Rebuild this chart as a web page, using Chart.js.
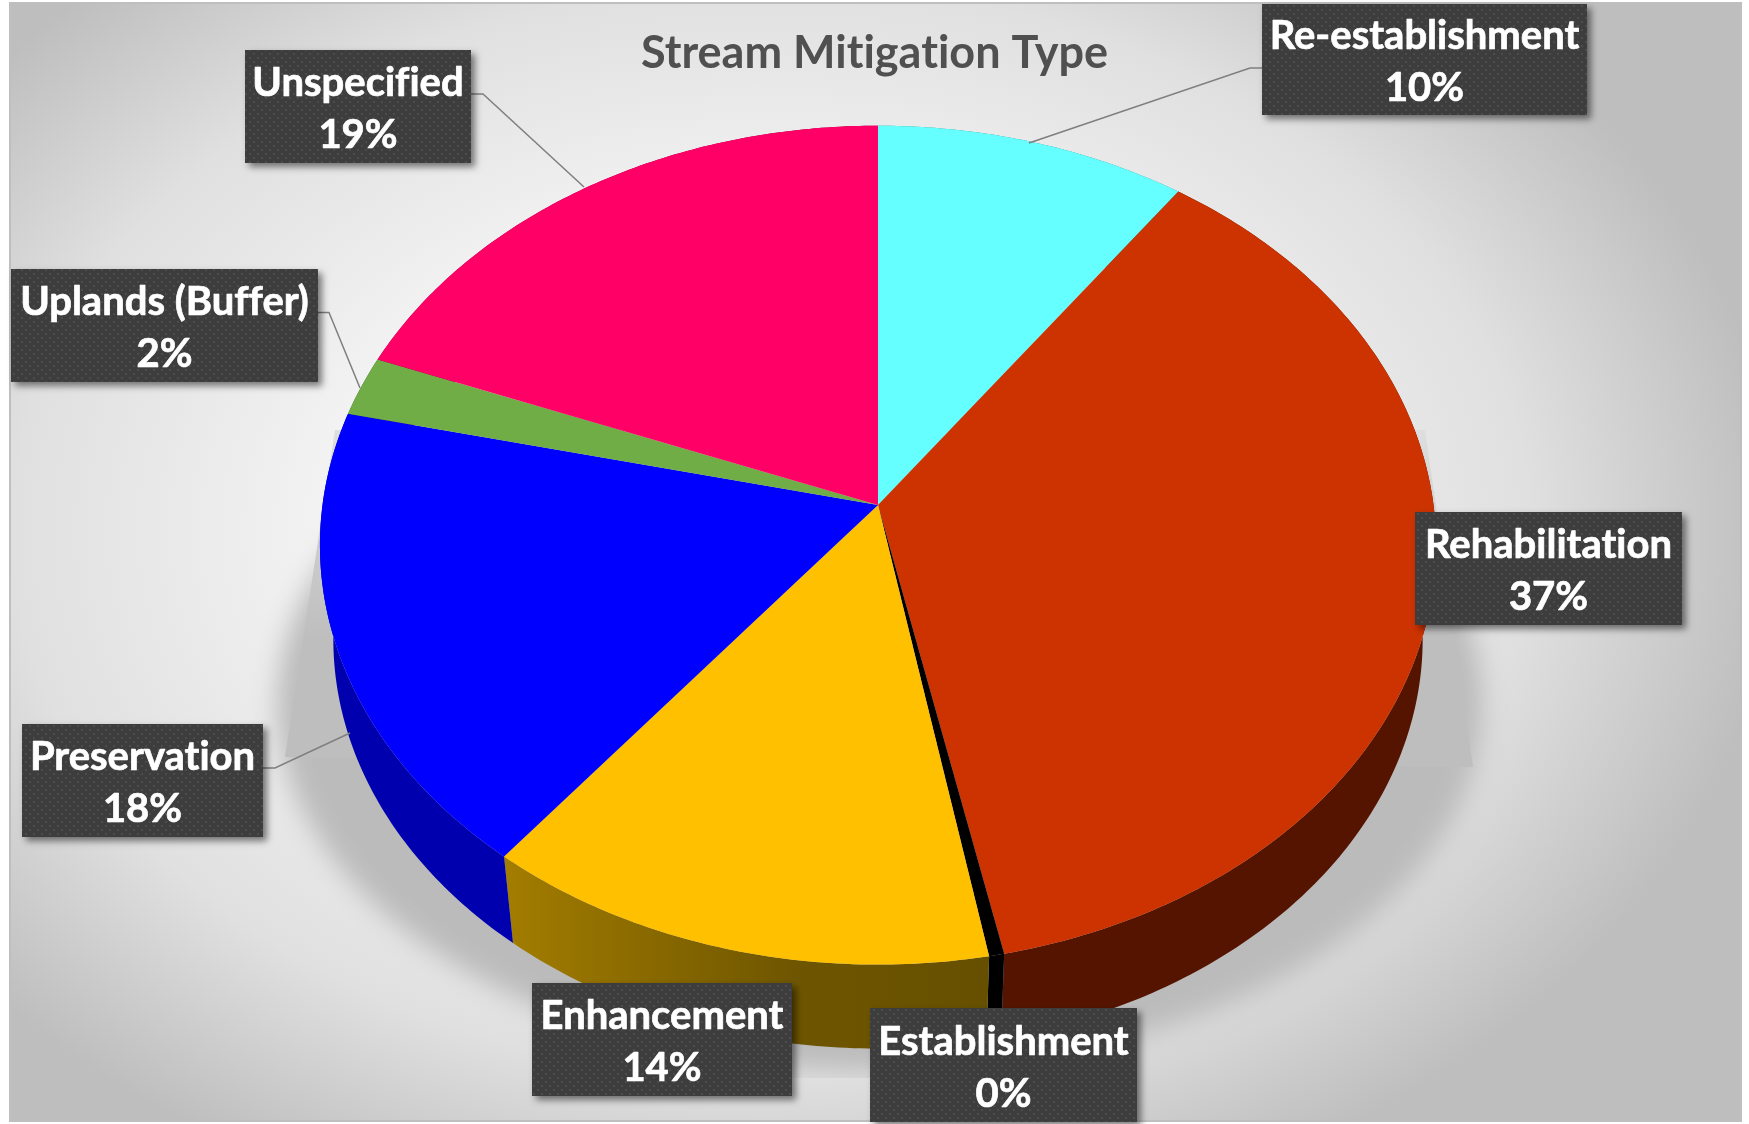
<!DOCTYPE html>
<html><head><meta charset="utf-8">
<style>html,body{margin:0;padding:0;background:#fff}canvas{display:block}</style>
<script src="https://cdn.jsdelivr.net/npm/chart.js@4/dist/chart.umd.js"></script>
</head><body>
<canvas id="c" width="1749" height="1124" style="width:1749px;height:1124px"></canvas>
<script>
const titleText = 'Stream Mitigation Type';
const categories = ['Re-establishment','Rehabilitation','Establishment','Enhancement','Preservation','Uplands (Buffer)','Unspecified'];
const shares = [9.9, 36.8, 0.4, 13.6, 17.9, 2.3, 19.1];
const topColors = ['#66FFFF','#CC3300','#000000','#FFC000','#0000FF','#70AD47','#FF0066'];
const sideColors = ['#2e8a8a','#541400','#000000','#7a6000','#0000AE','#3a5f22','#8a0037'];
// label box [left, top, right, bottom] per category
const labelBoxes = [[1262,4,1587,115],[1415,512,1682,625],[870,1008,1137,1122],[532,983,792,1096],[22,724,263,837],[11,269,318,382],[245,50,471,163]];
// leader line points per category
const leaders = [[[1262,68],[1250,68],[1029,143]],null,null,null,[[263,768],[275,768],[350,733]],[[318,312.5],[329,312.5],[360,388]],[[471,94],[483,94],[584,187]]];

// perspective tilt of the pie
const PIE_RADIUS = 430;
const AX = 555.5/PIE_RADIUS, BY = 415.6/PIE_RADIUS, K = 0.0957, SHIFT_X = 3.5;
const DEPTH = 95, BOTTOM_SCALE = 0.976;

function project(el, a, bottom){
  const R = el.outerRadius, cx = Math.cos(a), cy = Math.sin(a), d = 1 - K*cy;
  let X = AX*R*cx/d, Y = BY*R*cy/d;
  if(bottom){ X *= BOTTOM_SCALE; Y = Y*BOTTOM_SCALE + DEPTH; }
  return [el.x + SHIFT_X + X, el.y + Y];
}
const ArcEl = Chart.registry.getElement('arc');
ArcEl.prototype.draw = function(ctx){
  const N = Math.max(2, Math.ceil((this.endAngle-this.startAngle)*80));
  ctx.beginPath();
  ctx.moveTo(this.x+SHIFT_X, this.y);
  for(let i=0;i<=N;i++){
    const p = project(this, this.startAngle+(this.endAngle-this.startAngle)*i/N, false);
    ctx.lineTo(p[0],p[1]);
  }
  ctx.closePath();
  ctx.fillStyle = this.options.backgroundColor;
  ctx.fill();
};

const backdrop = {
  id:'backdrop',
  beforeDraw(chart){
    const ctx = chart.ctx;
    ctx.textRendering='optimizeSpeed';
    ctx.save();
    ctx.fillStyle='#fff'; ctx.fillRect(0,0,1749,1124);
    ctx.fillStyle='#BFBFBF'; ctx.fillRect(9,2,1733,1120);
    ctx.beginPath(); ctx.rect(11,4,1729,1116); ctx.clip();
    ctx.save();
    ctx.translate(770,530); ctx.scale(1,0.72);
    const g = ctx.createRadialGradient(0,0,0,0,0,1010);
    g.addColorStop(0,'#FBFBFB'); g.addColorStop(0.45,'#F2F2F2'); g.addColorStop(0.75,'#E0E0E0'); g.addColorStop(1,'#BEBEBE');
    ctx.fillStyle=g; ctx.fillRect(-1000,-1000,2800,3000);
    ctx.restore();
    // soft ground shadow
    ctx.save();
    ctx.beginPath(); ctx.rect(0,0,1749,1078); ctx.clip();
    ctx.filter='blur(13px)';
    ctx.fillStyle='#BBBBBB';
    ctx.beginPath(); ctx.ellipse(880,705,603,366,0,0,Math.PI*2); ctx.fill();
    ctx.restore();
    const w = ctx.createLinearGradient(0,430,0,640);
    w.addColorStop(0,'#DEDEDE'); w.addColorStop(1,'#BEBEBE');
    ctx.fillStyle=w;
    ctx.beginPath(); ctx.moveTo(335,430); ctx.lineTo(285,757); ctx.lineTo(1473,767); ctx.lineTo(1425,430); ctx.closePath(); ctx.fill();
    ctx.restore();
  }
};

const sides = {
  id:'sides',
  beforeDatasetsDraw(chart){
    const ctx = chart.ctx, arcs = chart.getDatasetMeta(0).data;
    ctx.save();
    arcs.forEach((el,i)=>{
      const s = el.startAngle, e = el.endAngle, N = Math.max(2, Math.ceil((e-s)*80));
      ctx.beginPath();
      for(let j=0;j<=N;j++){ const p = project(el,s+(e-s)*j/N,false); j?ctx.lineTo(p[0],p[1]):ctx.moveTo(p[0],p[1]); }
      for(let j=N;j>=0;j--){ const p = project(el,s+(e-s)*j/N,true); ctx.lineTo(p[0],p[1]); }
      ctx.closePath();
      if(i===3){
        const g = ctx.createLinearGradient(505,0,990,0);
        g.addColorStop(0,'#A37D00'); g.addColorStop(0.6,'#6E5500'); g.addColorStop(1,'#665000');
        ctx.fillStyle = g;
      } else ctx.fillStyle = sideColors[i];
      ctx.fill();
    });
    ctx.restore();
  }
};

function dotPattern(ctx){
  const t = document.createElement('canvas'); t.width=8; t.height=8;
  const c = t.getContext('2d');
  c.fillStyle='#3D3D3D'; c.fillRect(0,0,8,8);
  c.fillStyle='#4C4C4C'; c.fillRect(1,1,2,2); c.fillRect(5,5,2,2);
  return ctx.createPattern(t,'repeat');
}

const labelsPlugin = {
  id:'callouts',
  afterDatasetsDraw(chart){
    const ctx = chart.ctx, vals = chart.data.datasets[0].data;
    const total = vals.reduce((a,b)=>a+b,0);
    const pat = dotPattern(ctx);
    ctx.save();
    ctx.strokeStyle='#7F7F7F'; ctx.lineWidth=1.5;
    leaders.forEach(L=>{
      if(!L) return;
      ctx.beginPath(); L.forEach((p,i)=>i?ctx.lineTo(p[0],p[1]):ctx.moveTo(p[0],p[1])); ctx.stroke();
    });
    chart.data.labels.forEach((name,i)=>{
      const [l,t,r,b] = labelBoxes[i];
      ctx.save();
      ctx.shadowColor='rgba(0,0,0,0.5)'; ctx.shadowBlur=7; ctx.shadowOffsetX=4; ctx.shadowOffsetY=4;
      ctx.fillStyle=pat; ctx.fillRect(l,t,r-l,b-t);
      ctx.restore();
      ctx.fillStyle='#fff'; ctx.strokeStyle='#fff'; ctx.lineWidth=0.7; ctx.lineJoin='round';
      ctx.font='bold 40px Lato, "Open Sans", sans-serif';
      ctx.textAlign='center'; ctx.textBaseline='middle';
      const mx=(l+r)/2, my=(t+b)/2+3;
      [[name,my-26],[Math.round(vals[i]/total*100)+'%',my+26]].forEach(([s,y])=>{
        ctx.fillText(s,mx,y); ctx.strokeText(s,mx,y);
      });
    });
    ctx.restore();
  }
};

new Chart(document.getElementById('c').getContext('2d'),{
  type:'pie',
  data:{labels:categories,datasets:[{data:shares,backgroundColor:topColors,borderWidth:0}]},
  options:{
    responsive:false, animation:false, radius:PIE_RADIUS,
    layout:{padding:{left:0,right:0,top:0,bottom:194.5}},
    plugins:{
      legend:{display:false},tooltip:{enabled:false},
      title:{display:true,text:titleText,color:'#505050',
        font:{family:'Lato, "Open Sans", sans-serif',size:45,weight:'bold',lineHeight:1.2},
        padding:{top:26.5,bottom:0}}
    }
  },
  plugins:[backdrop,sides,labelsPlugin]
});
</script>
</body></html>
